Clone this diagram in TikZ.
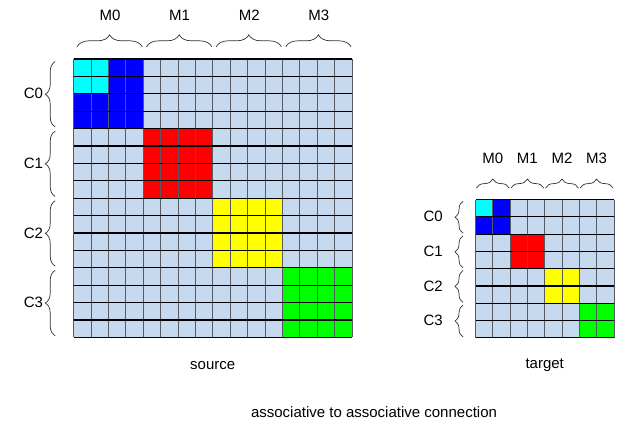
\documentclass[tikz,border=0pt]{standalone}
\usepackage{fontspec}
\setmainfont{Liberation Sans}
\usetikzlibrary{decorations.pathreplacing,positioning}
\definecolor{cellbg}{RGB}{198,217,238}
\definecolor{vgrid}{RGB}{85,90,100}
\definecolor{cellcyan}{RGB}{0,255,255}
\definecolor{cellblue}{RGB}{0,0,255}
\definecolor{cellred}{RGB}{255,0,0}
\definecolor{cellyellow}{RGB}{255,255,0}
\definecolor{cellgreen}{RGB}{0,255,0}

\tikzset{
  lbl/.style={font=\fontsize{15}{18}\selectfont, inner sep=0pt},
  curly/.style={decorate, decoration={brace, amplitude=#1}, draw=black!80, line width=0.7pt},
  vline/.style={draw=vgrid, line width=0.8pt},
  hline/.style={draw=black, line width=1.1pt},
}

\begin{document}
\begin{tikzpicture}[x=1pt, y=-1pt]
  \useasboundingbox (0,0) rectangle (623,426);
  \fill[white] (0,0) rectangle (623,426);

  % source matrix
  \begin{scope}[shift={(73.5,59)}, x=17.4pt, y=-17.4pt]
    \fill[cellbg] (0,0) rectangle (16,16);
    \fill[cellblue] (0,0) rectangle (4,4);
    \fill[cellcyan] (0,0) rectangle (2,2);
    \fill[cellred] (4,4) rectangle (8,8);
    \fill[cellyellow] (8,8) rectangle (12,12);
    \fill[cellgreen] (12,12) rectangle (16,16);
    \foreach \i in {0,...,16}
      \draw[vline] (\i,0) -- (\i,16);
    \foreach \i in {0,...,16}
      \draw[hline] (0,\i) -- (16,\i);
    \foreach \k in {0,...,3} {
      \draw[curly=12pt] (4*\k+0.2,-0.7) -- (4*\k+3.95,-0.7);
      \node[lbl] (sm\k) at (4*\k+2.1,-2.5) {M\k};
      \draw[curly=10pt] (-1.05,4*\k+3.9) -- (-1.05,4*\k+0.15);
      \node[lbl] (sc\k) at (-2.3,4*\k+2) {C\k};
    }
    \node[lbl] (src) at (8.0,17.6) {source};
  \end{scope}

  % target matrix
  \begin{scope}[shift={(475.5,199.5)}, x=17.3pt, y=-17.3pt]
    \fill[cellbg] (0,0) rectangle (8,8);
    \fill[cellblue] (0,0) rectangle (2,2);
    \fill[cellcyan] (0,0) rectangle (1,1);
    \fill[cellred] (2,2) rectangle (4,4);
    \fill[cellyellow] (4,4) rectangle (6,6);
    \fill[cellgreen] (6,6) rectangle (8,8);
    \foreach \i in {0,...,8}
      \draw[vline] (\i,0) -- (\i,8);
    \foreach \i in {0,...,8}
      \draw[hline] (0,\i) -- (8,\i);
    \foreach \k in {0,...,3} {
      \draw[curly=9pt] (2*\k+0.05,-0.66) -- (2*\k+1.95,-0.66);
      \node[lbl] (tm\k) at (2*\k+1,-2.4) {M\k};
      \draw[curly=8pt] (-0.72,2*\k+1.95) -- (-0.72,2*\k+0.1);
      \node[lbl] (tc\k) at (-2.45,2*\k+1) {C\k};
    }
    \node[lbl] (tgt) at (4.0,9.6) {target};
  \end{scope}

  \node[lbl] (title) at (374,412) {associative to associative connection};
\end{tikzpicture}
\end{document}
